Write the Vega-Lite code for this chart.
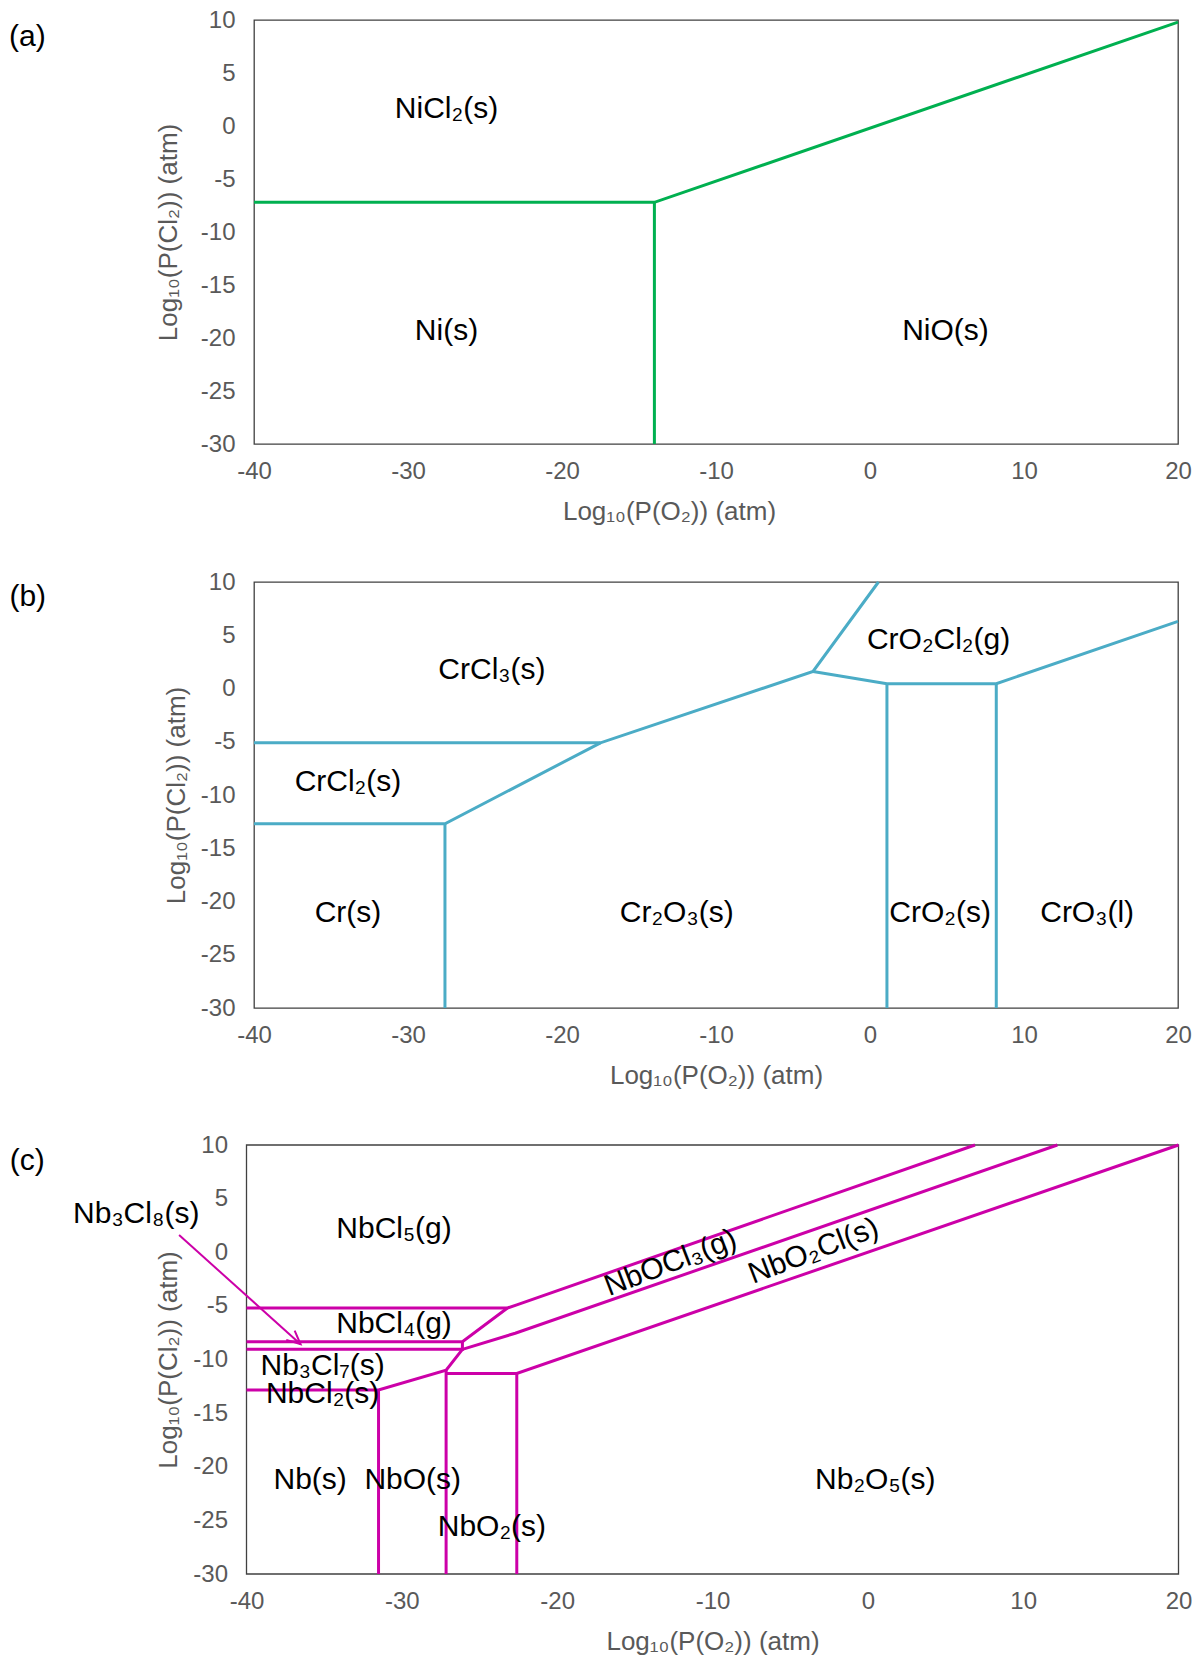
{
  "$schema": "https://vega.github.io/schema/vega-lite/v6.json",
  "background": "white",
  "padding": {"left": 8, "top": 7, "right": 5, "bottom": 5},
  "spacing": 44,
  "config": {
    "font": "Liberation Sans",
    "view": {"stroke": "#404040", "strokeWidth": 1.3},
    "axis": {
      "grid": false, "ticks": false, "domain": false, "labelFlush": false,
      "labelFont": "Liberation Sans", "labelFontSize": 24, "labelColor": "#595959",
      "labelExpr": "'' + datum.value",
      "titleFont": "Liberation Sans", "titleFontSize": 26, "titleFontWeight": "normal", "titleColor": "#595959"
    },
    "text": {"font": "Liberation Sans", "fontSize": 30, "color": "black"}
  },
  "datasets": {
    "a_lines": [
      {"seg": 1, "o": 0, "x": -40, "y": -7.2}, {"seg": 1, "o": 1, "x": -14, "y": -7.2}, {"seg": 1, "o": 2, "x": 20, "y": 9.8},
      {"seg": 2, "o": 0, "x": -14, "y": -7.2}, {"seg": 2, "o": 1, "x": -14, "y": -30}
    ],
    "a_labels": [
      {"label": "NiCl₂(s)", "x": -27.5, "y": 1.6},
      {"label": "Ni(s)", "x": -27.5, "y": -19.3},
      {"label": "NiO(s)", "x": 4.9, "y": -19.3},
      {"label": "(a)", "x": -54.72, "y": 8.35}
    ],
    "b_lines": [
      {"seg": 1, "o": 0, "x": -40, "y": -5.1}, {"seg": 1, "o": 1, "x": -17.5, "y": -5.1}, {"seg": 1, "o": 2, "x": -3.7, "y": 1.6}, {"seg": 1, "o": 3, "x": 0.55, "y": 10},
      {"seg": 2, "o": 0, "x": -40, "y": -12.7}, {"seg": 2, "o": 1, "x": -27.6, "y": -12.7}, {"seg": 2, "o": 2, "x": -17.5, "y": -5.1},
      {"seg": 3, "o": 0, "x": -27.6, "y": -12.7}, {"seg": 3, "o": 1, "x": -27.6, "y": -30},
      {"seg": 4, "o": 0, "x": -3.7, "y": 1.6}, {"seg": 4, "o": 1, "x": 1.1, "y": 0.45}, {"seg": 4, "o": 2, "x": 8.2, "y": 0.45}, {"seg": 4, "o": 3, "x": 20, "y": 6.3},
      {"seg": 5, "o": 0, "x": 1.1, "y": 0.45}, {"seg": 5, "o": 1, "x": 1.1, "y": -30},
      {"seg": 6, "o": 0, "x": 8.2, "y": 0.45}, {"seg": 6, "o": 1, "x": 8.2, "y": -30}
    ],
    "b_labels": [
      {"label": "CrCl₃(s)", "x": -24.55, "y": 1.7},
      {"label": "CrO₂Cl₂(g)", "x": 4.45, "y": 4.6},
      {"label": "CrCl₂(s)", "x": -33.9, "y": -8.75},
      {"label": "Cr(s)", "x": -33.9, "y": -21.1},
      {"label": "Cr₂O₃(s)", "x": -12.55, "y": -21.1},
      {"label": "CrO₂(s)", "x": 4.55, "y": -21.1},
      {"label": "CrO₃(l)", "x": 14.1, "y": -21.1},
      {"label": "(b)", "x": -54.69, "y": 8.6}
    ],
    "c_frame": [
      {"x": -40, "x2": 20, "y": -30, "y2": 10}
    ],
    "c_lines": [
      {"seg": 1, "o": 0, "x": -40, "y": -5.2}, {"seg": 1, "o": 1, "x": -23.2, "y": -5.2}, {"seg": 1, "o": 2, "x": -22.6, "y": -4.9}, {"seg": 1, "o": 3, "x": 6.9, "y": 10},
      {"seg": 2, "o": 0, "x": -40, "y": -8.34}, {"seg": 2, "o": 1, "x": -26.1, "y": -8.34}, {"seg": 2, "o": 2, "x": -23.2, "y": -5.2},
      {"seg": 3, "o": 0, "x": -40, "y": -9.05}, {"seg": 3, "o": 1, "x": -26.1, "y": -9.05}, {"seg": 3, "o": 2, "x": -26.1, "y": -8.34},
      {"seg": 4, "o": 0, "x": -26.1, "y": -9.05}, {"seg": 4, "o": 1, "x": -22.7, "y": -7.55}, {"seg": 4, "o": 2, "x": 12.2, "y": 10},
      {"seg": 5, "o": 0, "x": -26.1, "y": -9.05}, {"seg": 5, "o": 1, "x": -27.15, "y": -11.0}, {"seg": 5, "o": 2, "x": -31.5, "y": -12.84}, {"seg": 5, "o": 3, "x": -40, "y": -12.84},
      {"seg": 6, "o": 0, "x": -31.5, "y": -12.84}, {"seg": 6, "o": 1, "x": -31.5, "y": -30},
      {"seg": 7, "o": 0, "x": -27.15, "y": -11.0}, {"seg": 7, "o": 1, "x": -27.15, "y": -30},
      {"seg": 8, "o": 0, "x": -27.15, "y": -11.3}, {"seg": 8, "o": 1, "x": -22.6, "y": -11.3}, {"seg": 8, "o": 2, "x": 20, "y": 10},
      {"seg": 9, "o": 0, "x": -22.6, "y": -11.3}, {"seg": 9, "o": 1, "x": -22.6, "y": -30}
    ],
    "c_arrow": [
      {"seg": 1, "o": 0, "x": -44.34, "y": 1.61}, {"seg": 1, "o": 1, "x": -36.52, "y": -8.58},
      {"seg": 2, "o": 0, "x": -36.9, "y": -7.3}, {"seg": 2, "o": 1, "x": -36.52, "y": -8.58}, {"seg": 2, "o": 2, "x": -37.44, "y": -8.17}
    ],
    "c_labels": [
      {"label": "Nb₃Cl₈(s)", "x": -47.1, "y": 3.6},
      {"label": "NbCl₅(g)", "x": -30.5, "y": 2.2},
      {"label": "NbCl₄(g)", "x": -30.5, "y": -6.7},
      {"label": "Nb₃Cl₇(s)", "x": -35.1, "y": -10.6},
      {"label": "NbCl₂(s)", "x": -35.1, "y": -13.2},
      {"label": "Nb(s)", "x": -35.9, "y": -21.2},
      {"label": "NbO(s)", "x": -29.3, "y": -21.2},
      {"label": "NbO₂(s)", "x": -24.2, "y": -25.65},
      {"label": "Nb₂O₅(s)", "x": 0.48, "y": -21.2},
      {"label": "(c)", "x": -54.12, "y": 8.5}
    ],
    "c_rot": [
      {"label": "NbOCl₃(g)", "x": -12.7, "y": -1.0},
      {"label": "NbO₂Cl(s)", "x": -3.5, "y": 0.1}
    ]
  },
  "vconcat": [
    {
      "width": 924, "height": 424,
      "encoding": {
        "x": {"field": "x", "type": "quantitative", "scale": {"domain": [-40, 20], "nice": false, "zero": false},
              "axis": {"title": "Log₁₀(P(O₂)) (atm)", "values": [-40, -30, -20, -10, 0, 10, 20], "labelPadding": 15, "titlePadding": 15, "titleX": 415}},
        "y": {"field": "y", "type": "quantitative", "scale": {"domain": [-30, 10], "nice": false, "zero": false},
              "axis": {"title": "Log₁₀(P(Cl₂)) (atm)", "values": [-30, -25, -20, -15, -10, -5, 0, 5, 10], "labelPadding": 19, "titlePadding": 19}}
      },
      "layer": [
        {"data": {"name": "a_lines"}, "mark": {"type": "line", "color": "#00B050", "strokeWidth": 3, "strokeJoin": "miter"},
         "encoding": {"detail": {"field": "seg"}, "order": {"field": "o"}}},
        {"data": {"name": "a_labels"}, "mark": {"type": "text"}, "encoding": {"text": {"field": "label"}}}
      ]
    },
    {
      "width": 924, "height": 426,
      "encoding": {
        "x": {"field": "x", "type": "quantitative", "scale": {"domain": [-40, 20], "nice": false, "zero": false},
              "axis": {"title": "Log₁₀(P(O₂)) (atm)", "values": [-40, -30, -20, -10, 0, 10, 20], "labelPadding": 15, "titlePadding": 15}},
        "y": {"field": "y", "type": "quantitative", "scale": {"domain": [-30, 10], "nice": false, "zero": false},
              "axis": {"title": "Log₁₀(P(Cl₂)) (atm)", "values": [-30, -25, -20, -15, -10, -5, 0, 5, 10], "labelPadding": 19, "titlePadding": 11}}
      },
      "layer": [
        {"data": {"name": "b_lines"}, "mark": {"type": "line", "color": "#4BACC6", "strokeWidth": 3, "strokeJoin": "miter"},
         "encoding": {"detail": {"field": "seg"}, "order": {"field": "o"}}},
        {"data": {"name": "b_labels"}, "mark": {"type": "text"}, "encoding": {"text": {"field": "label"}}}
      ]
    },
    {
      "width": 924.5, "height": 429,
      "view": {"stroke": null},
      "encoding": {
        "x": {"field": "x", "type": "quantitative", "scale": {"domain": [-40, 20], "range": [-7.5, 924.5], "nice": false, "zero": false},
              "axis": {"title": "Log₁₀(P(O₂)) (atm)", "values": [-40, -30, -20, -10, 0, 10, 20], "labelPadding": 15, "titlePadding": 15}},
        "y": {"field": "y", "type": "quantitative", "scale": {"domain": [-30, 10], "nice": false, "zero": false},
              "axis": {"title": "Log₁₀(P(Cl₂)) (atm)", "values": [-30, -25, -20, -15, -10, -5, 0, 5, 10], "labelPadding": 19, "titlePadding": 11, "offset": 7.5}}
      },
      "layer": [
        {"data": {"name": "c_frame"}, "mark": {"type": "rect", "fill": "white", "fillOpacity": 0, "stroke": "#404040", "strokeWidth": 1.3},
         "encoding": {"x2": {"field": "x2"}, "y2": {"field": "y2"}}},
        {"data": {"name": "c_lines"}, "mark": {"type": "line", "color": "#CC00A8", "strokeWidth": 3, "strokeJoin": "miter"},
         "encoding": {"detail": {"field": "seg"}, "order": {"field": "o"}}},
        {"data": {"name": "c_arrow"}, "mark": {"type": "line", "color": "#CC00A8", "strokeWidth": 2},
         "encoding": {"detail": {"field": "seg"}, "order": {"field": "o"}}},
        {"data": {"name": "c_labels"}, "mark": {"type": "text"}, "encoding": {"text": {"field": "label"}}},
        {"data": {"name": "c_rot"}, "mark": {"type": "text", "angle": 339}, "encoding": {"text": {"field": "label"}}}
      ]
    }
  ]
}
